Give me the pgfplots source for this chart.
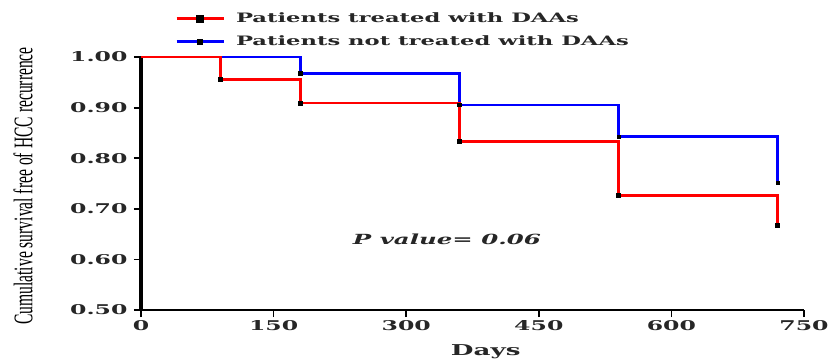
\documentclass[border=0pt]{standalone}
\usepackage{pgfplots}
\pgfplotsset{compat=1.18}
\usepackage{fontspec}
\setmainfont{DejaVu Serif}
\newfontfamily\widefont[FakeStretch=1.75]{DejaVu Serif}
\newfontfamily\labfont[FakeStretch=0.58]{Liberation Serif}
\begin{document}
\begin{tikzpicture}
\begin{axis}[
  scale only axis, width=663bp, height=253bp,
  xmin=0, xmax=750, ymin=0.5, ymax=1.0,
  axis x line*=bottom, axis y line*=left,
  axis line style={black,-},
  x axis line style={line width=1.8bp},
  y axis line style={line width=4bp},
  xtick={0,150,300,450,600,750},
  ytick={0.5,0.6,0.7,0.8,0.9,1.0},
  tick style={black, line width=1.8bp},
  tick align=outside, major tick length=7bp,
  ticklabel style={font=\widefont\bfseries\fontsize{13.5}{13.5}\selectfont, text=black!85},
  yticklabel style={xshift=-3bp, /pgf/number format/.cd, fixed, fixed zerofill, precision=2},
  /pgf/number format/assume math mode=true,
  xlabel={Days},
  xlabel style={at={(axis description cs:0.52,-0.166)}, anchor=center, font=\widefont\bfseries\fontsize{15}{15}\selectfont, text=black!85},
  ylabel={Cumulative survival free of HCC recurrence},
  ylabel style={at={(axis description cs:-0.178,0.49)}, anchor=center, font=\labfont\fontsize{27}{27}\selectfont},
  legend style={at={(0.051,1.105)}, anchor=west, draw=none, fill=none,
    font=\widefont\bfseries\fontsize{13}{13}\selectfont, text=black!85, row sep=8bp,
    inner sep=0pt, cells={anchor=west, inner sep=0pt, text height=9.5bp, text depth=2.5bp},
    /tikz/every odd column/.append style={column sep=9bp}},
  legend image code/.code={\draw[mark repeat=2,mark phase=2,#1] plot coordinates {(0bp,0bp) (23.5bp,0bp) (47bp,0bp)};},
  clip=false,
]
\addlegendimage{red, line width=3bp, mark=square*, mark size=2.2bp, mark options={black, solid}}
\addlegendentry{Patients treated with DAAs}
\addlegendimage{blue, line width=3bp, mark=square*, mark size=1.6bp, mark options={black, solid}}
\addlegendentry{Patients not treated with DAAs}

\addplot[blue, line width=2.8bp, const plot, forget plot] coordinates {
  (0,1.0) (180,0.968) (360,0.905) (540,0.8425) (720,0.752)};
\addplot[red, line width=2.8bp, const plot, forget plot] coordinates {
  (0,1.0) (90,0.956) (180,0.909) (360,0.833) (540,0.726) (720,0.668)};
\addplot[only marks, mark=square*, mark size=1.6bp, black, forget plot] coordinates {
  (180,0.968) (360,0.905) (540,0.8425) (720,0.752)};
\addplot[only marks, mark=square*, mark size=2bp, black, forget plot] coordinates {
  (90,0.956) (180,0.909) (360,0.833) (540,0.726) (720,0.668)};

\node[font=\widefont\bfseries\itshape\fontsize{14}{14}\selectfont, text=black!85] at (axis cs:346,0.640) {P value= 0.06};
\end{axis}
\pgfresetboundingbox
\path ([shift={(-141bp,-52bp)}]current axis.south west) rectangle ([shift={(26bp,57bp)}]current axis.north east);
\end{tikzpicture}
\end{document}
